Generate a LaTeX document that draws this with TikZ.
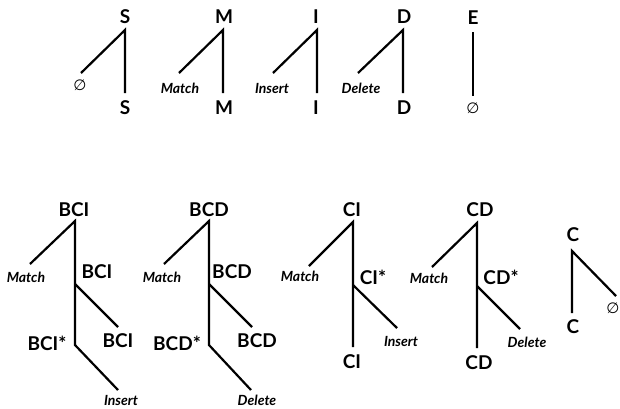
\documentclass[tikz,border=0pt]{standalone}
\usepackage{fontspec}
\setmainfont{Lato}
\newfontfamily\symfont{DejaVu Sans}
\begin{document}
\begin{tikzpicture}[x=1pt,y=-1pt,
  st/.style={font=\bfseries\fontsize{19}{19}\selectfont, inner sep=0pt},
  lab/.style={font=\bfseries\itshape\fontsize{14}{14}\selectfont, inner sep=0pt},
  nul/.style={font=\symfont\fontsize{15}{15}\selectfont, inner sep=0pt},
  tree/.style={line width=2.2pt, line join=miter}]
\useasboundingbox (0,0) rectangle (620,408);

% ---- single-state trees ----
% S
\node[st] (sTop) at (125,17) {S};
\coordinate (sV) at (125,30);
\coordinate (sL) at (81,73);
\coordinate (sB) at (125,93);
\node[nul] (sNil) at (80,85) {∅};
\node[st] (sBot) at (125,108) {S};
\draw[tree] (sL) -- (sV) -- (sB);

% M
\node[st] (mTop) at (224,17) {M};
\coordinate (mV) at (223,30);
\coordinate (mL) at (179,73);
\coordinate (mB) at (223,93);
\node[lab] (mLab) at (180,88) {Match};
\node[st] (mBot) at (224,108) {M};
\draw[tree] (mL) -- (mV) -- (mB);

% I
\node[st] (iTop) at (316,17) {I};
\coordinate (iV) at (317,30);
\coordinate (iL) at (273,73);
\coordinate (iB) at (317,93);
\node[lab] (iLab) at (272,88) {Insert};
\node[st] (iBot) at (316,108) {I};
\draw[tree] (iL) -- (iV) -- (iB);

% D
\node[st] (dTop) at (404,17) {D};
\coordinate (dV) at (403,30);
\coordinate (dL) at (358,73);
\coordinate (dB) at (403,93);
\node[lab] (dLab) at (361,88) {Delete};
\node[st] (dBot) at (404,108) {D};
\draw[tree] (dL) -- (dV) -- (dB);

% E
\node[st] (eTop) at (473,18) {E};
\coordinate (eV) at (473,32);
\coordinate (eB) at (473,96);
\node[nul] (eNil) at (473,108) {∅};
\draw[tree] (eV) -- (eB);

% ---- compound trees ----
% BCI
\node[st] (bciTop) at (74,210) {BCI};
\coordinate (bciV) at (75,221);
\coordinate (bciL) at (30,264);
\node[lab] (bciM) at (26,277) {Match};
\coordinate (bciP) at (75,284);
\coordinate (bciR) at (118,327);
\node[st] (bciMid) at (97,272) {BCI};
\node[st] (bciRt) at (118,341) {BCI};
\node[st] (bciStar) at (47,343) {BCI*};
\coordinate (bciQ) at (75,345);
\coordinate (bciR2) at (118,390);
\node[lab] (bciIns) at (121,400) {Insert};
\draw[tree] (bciL) -- (bciV) -- (bciQ) -- (bciR2);
\draw[tree] (bciP) -- (bciR);

% BCD
\node[st] (bcdTop) at (209,210) {BCD};
\coordinate (bcdV) at (209,221);
\coordinate (bcdL) at (164,264);
\node[lab] (bcdM) at (162,277) {Match};
\coordinate (bcdP) at (209,284);
\coordinate (bcdR) at (252,327);
\node[st] (bcdMid) at (232,272) {BCD};
\node[st] (bcdRt) at (257,341) {BCD};
\node[st] (bcdStar) at (177,343) {BCD*};
\coordinate (bcdQ) at (209,345);
\coordinate (bcdR2) at (251,390);
\node[lab] (bcdDel) at (257,400) {Delete};
\draw[tree] (bcdL) -- (bcdV) -- (bcdQ) -- (bcdR2);
\draw[tree] (bcdP) -- (bcdR);

% CI
\node[st] (ciTop) at (352,210) {CI};
\coordinate (ciV) at (353,222);
\coordinate (ciL) at (309,266);
\node[lab] (ciM) at (300,276) {Match};
\coordinate (ciP) at (353,285);
\coordinate (ciR) at (397,328);
\node[st] (ciStar) at (373,277) {CI*};
\node[lab] (ciIns) at (401,341) {Insert};
\coordinate (ciQ) at (353,347);
\node[st] (ciBot) at (352,362) {CI};
\draw[tree] (ciL) -- (ciV) -- (ciQ);
\draw[tree] (ciP) -- (ciR);

% CD
\node[st] (cdTop) at (480,210) {CD};
\coordinate (cdV) at (477,223);
\coordinate (cdL) at (432,267);
\node[lab] (cdM) at (429,278) {Match};
\node[st] (cdStar) at (501,277) {CD*};
\coordinate (cdP) at (477,286);
\coordinate (cdR) at (520,329);
\node[lab] (cdDel) at (527,342) {Delete};
\coordinate (cdQ) at (477,348);
\node[st] (cdBot) at (479,363) {CD};
\draw[tree] (cdL) -- (cdV) -- (cdQ);
\draw[tree] (cdP) -- (cdR);

% C
\node[st] (cTop) at (573,235) {C};
\coordinate (cV) at (572,251);
\coordinate (cB) at (572,313);
\node[st] (cBot) at (573,327) {C};
\coordinate (cR) at (616,296);
\node[nul] (cNil) at (613,308) {∅};
\draw[tree] (cB) -- (cV) -- (cR);
\end{tikzpicture}
\end{document}
